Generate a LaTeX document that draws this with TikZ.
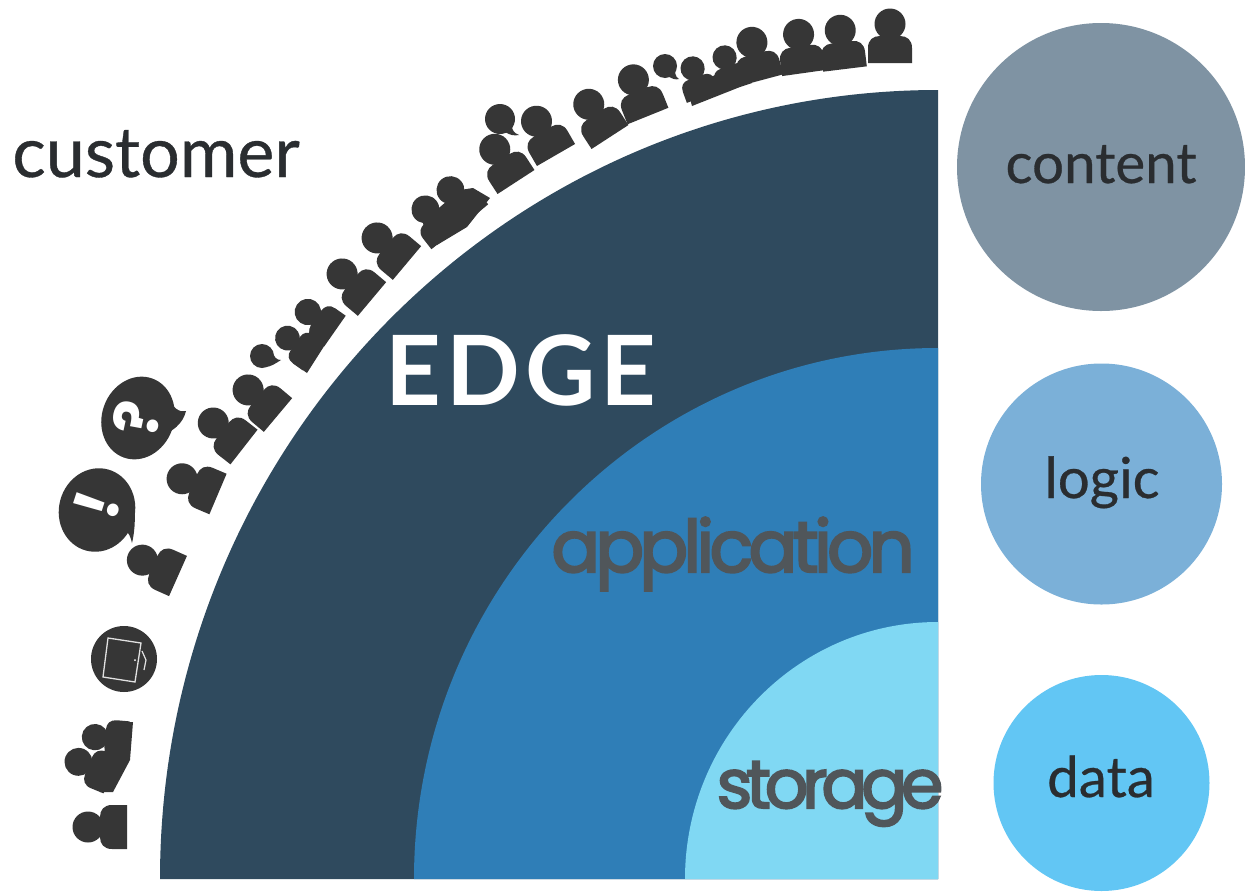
\documentclass[tikz,border=0pt]{standalone}
\usepackage{fontspec}
\setmainfont{Open Sans}
\newfontfamily\geoa[LetterSpace=-6.5,FakeBold=3]{Poppins}
\newfontfamily\geob[LetterSpace=-9,FakeBold=3]{Poppins}
\newfontfamily\lat[FakeBold=0.5]{Lato}
\newfontfamily\latb[LetterSpace=5]{Lato}
\newfontfamily\bubblefont{Poppins}
\definecolor{edgec}{HTML}{2F4A5E}
\definecolor{appc}{HTML}{2F7EB7}
\definecolor{stoc}{HTML}{80D8F3}
\definecolor{conc}{HTML}{7F93A3}
\definecolor{logc}{HTML}{7BB0D8}
\definecolor{datc}{HTML}{62C6F4}
\definecolor{ink}{HTML}{363636}
\definecolor{lab}{HTML}{2A2D30}
\definecolor{glab}{HTML}{50565A}
\tikzset{
  person/.pic={
    \fill[ink] (0,-39) circle (15.5);
    \fill[ink] (-8,-30) rectangle (8,-20);
    \fill[ink,line join=round] (-22,0) -- (-22,-15) .. controls (-22,-23) and (-17,-27) .. (-10,-27) -- (10,-27) .. controls (17,-27) and (22,-23) .. (22,-15) -- (22,0) -- cycle;
  },
  sidecircle/.style={circle,inner sep=0pt,minimum size=#1},
  sidelabel/.style={text=lab,font=\lat\fontsize{56.5}{56.5}\selectfont,inner sep=0pt},
  geolabel/.style={text=glab,inner sep=0pt}
}
\begin{document}
\begin{tikzpicture}[x=1pt,y=-1pt]
\useasboundingbox (0,0) rectangle (1245,892);
\fill[white] (0,0) rectangle (1245,892);
% quarter ellipses
\fill[edgec] (938,879) -- (160,879) arc[start angle=180,end angle=90,x radius=778,y radius=-789] -- cycle;
\fill[appc] (938,879) -- (414,879) arc[start angle=180,end angle=90,x radius=524,y radius=-531] -- cycle;
\fill[stoc] (938,879) -- (685,879) arc[start angle=180,end angle=90,x radius=253,y radius=-257] -- cycle;
% people
\foreach \px/\py/\pr/\ps in {
 890/63/0/1, 845/69/7/1, 804/73/8/1, 762/80/15/1,
 735/86/20/.78, 703/97/20/.78, 648/116/22/1,
 610/137/33/1, 556/155/30/1, 516/182/33/1,
 473/217/40/.9, 447/237/38/.9,
 407/263/50/1, 372/299/50/1,
 335/331/55/.85, 313/356/55/.8,
 278/415/50/1, 244/447/52/1, 218/494/67/1, 178/576/66/1,
 128/740/85/.85, 111/775/68/.9, 127/827/90/1}{
  \pic[rotate=\pr,scale=\ps] at (\px,\py) {person};
}
% joined bodies of the groups
\fill[ink] (692,106) -- (740,87) -- (752,83) -- (745,65) -- (725,70) -- (705,80) -- (687,88) -- cycle;
\fill[ink] (437,245) -- (467,227) -- (490,198) -- (473,188) -- (460,190) -- (440,207) -- (423,223) -- (425,233) -- cycle;
\fill[ink] (307,373) -- (342,318) -- (327,312) -- (312,320) -- (308,338) -- (295,353) -- (293,363) -- cycle;
\fill[ink] (110,722) -- (133,722) -- (130,760) -- (113,792) -- (100,792) -- (92,778) -- (98,758) -- (112,748) -- cycle;
% small speech bubbles
\fill[ink] (665,66) circle (12);
\fill[ink] (668,76) .. controls (672,79) and (676,80) .. (679,79) .. controls (675,77) and (675,72) .. (675,68) -- cycle;
\fill[ink] (500,119) circle (15);
\fill[ink] (505,132) .. controls (510,135) and (514,136) .. (519,135) .. controls (514,133) and (512,130) .. (512,126) -- cycle;
\fill[ink] (262,356) circle (12);
\fill[ink] (265,367) .. controls (271,367) and (276,363) .. (281,360) .. controls (277,360) and (274,358) .. (272,350) -- cycle;
% question bubble
\fill[ink,rotate around={-20:(138,418)}] (138,418) ellipse (36 and 42);
\fill[ink] (168,396) .. controls (172,408) and (180,413) .. (186,411) .. controls (183,424) and (172,432) .. (160,436) -- cycle;
\node[text=white,rotate=78,inner sep=0pt,font=\bubblefont\bfseries\fontsize{62}{62}\selectfont] (qmark) at (137,418) {?};
% exclamation bubble
\fill[ink,rotate around={-15:(97,510)}] (97,510) ellipse (38 and 42);
\fill[ink] (134,505) .. controls (136,520) and (134,535) .. (132,543) .. controls (130,534) and (127,530) .. (122,531) .. controls (116,537) and (110,546) .. (98,550) -- cycle;
\node[text=white,rotate=72,inner sep=0pt,font=\bubblefont\bfseries\fontsize{62}{62}\selectfont] (emark) at (97,505) {!};
% tablet
\fill[ink] (124,659) circle (33);
\draw[white!85!ink,line width=1.3pt] (108,638) -- (141,643) -- (135,682) -- (103,677) -- cycle;
\fill[white] (135,660) circle (1);
\draw[white!85!ink,line width=1.2pt] (142,651) -- (146,660) -- (144,670);
% texts
\node[sidelabel,anchor=base,font=\lat\fontsize{70}{70}\selectfont] (customer) at (156,177) {customer};
\node[text=white,inner sep=0pt,anchor=base,font=\latb\bfseries\fontsize{97}{97}\selectfont] (edge) at (521,405) {EDGE};
\node[geolabel,anchor=base,font=\geoa\fontsize{72}{72}\selectfont] (application) at (733,572) {application};
\node[geolabel,anchor=base,font=\geob\fontsize{68}{68}\selectfont] (storage) at (830,808) {storage};
% side circles
\node[sidecircle=288pt,fill=conc] (content) at (1101,167) {};
\node[sidecircle=241pt,fill=logc] (logic) at (1101.5,484) {};
\node[sidecircle=216pt,fill=datc] (data) at (1101.5,783) {};
\node[sidelabel,anchor=base] (contentl) at (1101,183) {content};
\node[sidelabel,anchor=base] (logicl) at (1102,498) {logic};
\node[sidelabel,anchor=base] (datal) at (1101,797) {data};
\end{tikzpicture}
\end{document}
